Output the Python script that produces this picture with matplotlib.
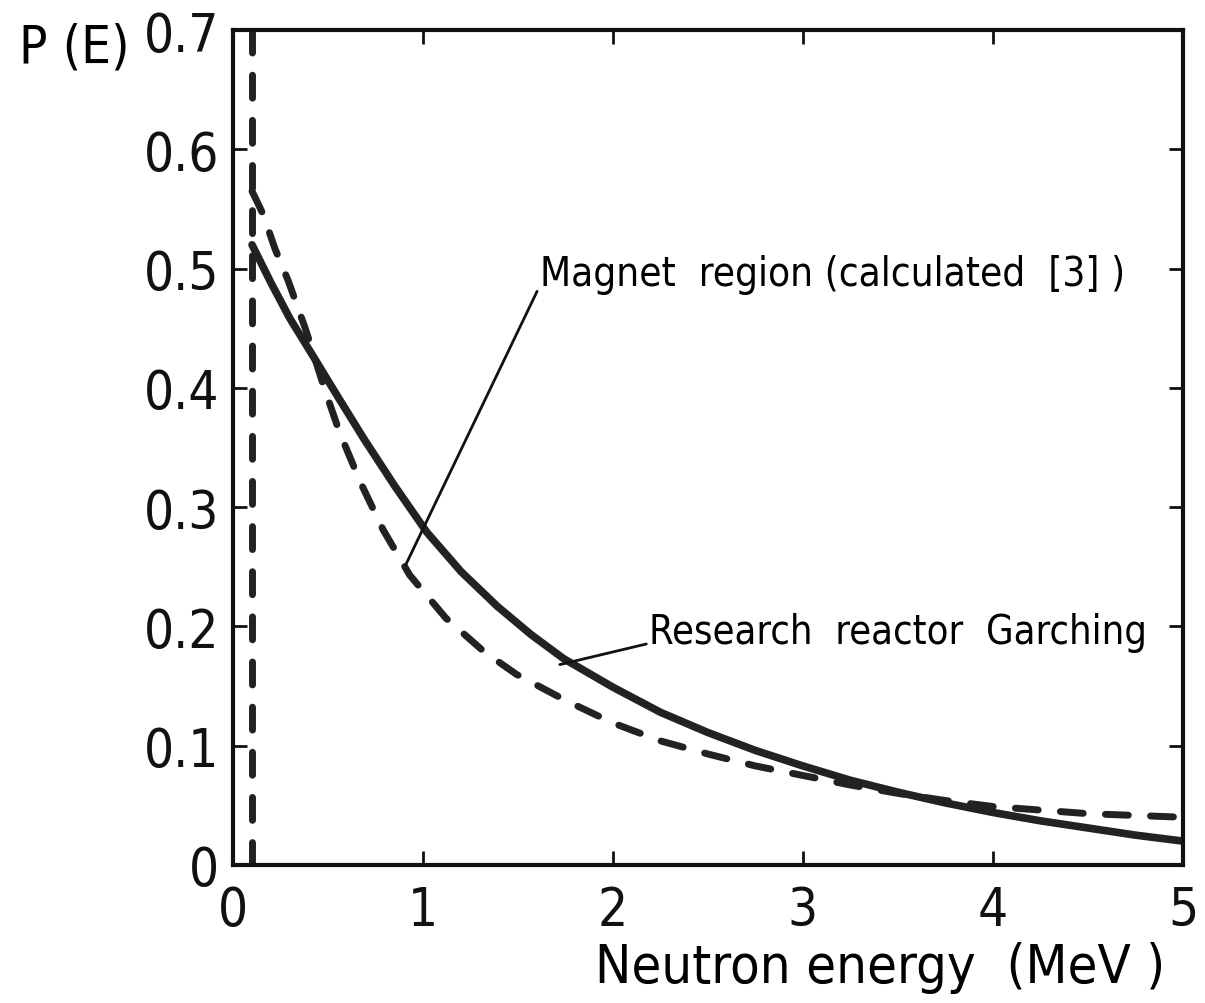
import numpy as np
import matplotlib
matplotlib.use('Agg')
import matplotlib.pyplot as plt

# the original lettering is narrow, ask for the condensed cut of DejaVu
plt.rcParams['font.family'] = ['DejaVu Sans']
plt.rcParams['font.stretch'] = 'condensed'

# research reactor Garching (solid)
E_solid = [0.1, 0.2, 0.3, 0.42, 0.55, 0.69, 0.85, 1.02, 1.2, 1.39, 1.57, 1.74,
           2.0, 2.25, 2.5, 2.75, 3.0, 3.25, 3.5, 3.75, 4.0, 4.25, 4.5, 4.75, 5.0]
P_solid = [0.52, 0.488, 0.458, 0.427, 0.393, 0.357, 0.318, 0.279, 0.246, 0.217, 0.193, 0.173,
           0.149, 0.128, 0.111, 0.096, 0.083, 0.071, 0.061, 0.052, 0.044, 0.037, 0.031, 0.025, 0.020]

# magnet region, calculated [3] (dashed)
E_dash = [0.1, 0.16, 0.22, 0.29, 0.38, 0.48, 0.56, 0.67, 0.79, 0.93, 1.12, 1.32, 1.49,
          1.75, 2.0, 2.25, 2.5, 2.75, 3.0, 3.25, 3.5, 3.75, 4.0, 4.5, 5.0]
P_dash = [0.565, 0.545, 0.517, 0.49, 0.45, 0.40, 0.363, 0.321, 0.281, 0.243, 0.207, 0.179, 0.160,
          0.138, 0.119, 0.104, 0.093, 0.083, 0.075, 0.067, 0.060, 0.054, 0.049, 0.043, 0.040]
E_peak = 0.1   # vertical dashed line at the low energy end

xticks = [0, 1, 2, 3, 4, 5]
yticks = [0, 0.1, 0.2, 0.3, 0.4, 0.5, 0.6, 0.7]
ylabels = ['0', '0.1', '0.2', '0.3', '0.4', '0.5', '0.6', '0.7']

fig = plt.figure(figsize=(12.05, 10.04), dpi=100)
ax = fig.add_axes([0.1934, 0.1375, 0.7883, 0.8315])

ax.plot(E_solid, P_solid, color='#222222', lw=5.5, solid_capstyle='round')
ax.plot(E_dash, P_dash, color='#222222', lw=5, dashes=(3.3, 3.2), dash_capstyle='round')
ax.plot([E_peak, E_peak], [0, 0.7], color='#222222', lw=5, dashes=(3.3, 3.2), dash_capstyle='round')

ax.set_xlim(0, 5)
ax.set_ylim(0, 0.7)
ax.set_xticks(xticks)
ax.set_xticklabels([str(v) for v in xticks])
ax.set_yticks(yticks)
ax.set_yticklabels(ylabels)
ax.tick_params(direction='in', length=10, width=2, top=True, right=True,
               labelsize=38, colors='#111111')
ax.tick_params(axis='x', pad=14)
ax.tick_params(axis='y', pad=10)
for s in ax.spines.values():
    s.set_linewidth(3)
    s.set_color('#111111')

# leader lines start at the baseline of the first letter
lead = dict(arrowstyle='-', lw=2, color='#111111', relpos=(0, 0.22), shrinkA=0, shrinkB=0)
ax.annotate('Magnet  region (calculated  [3] )', xy=(0.91, 0.252), xytext=(1.615, 0.486),
            fontsize=29, arrowprops=lead, ha='left', va='baseline')
ax.annotate('Research  reactor  Garching', xy=(1.72, 0.168), xytext=(2.19, 0.186),
            fontsize=28.5, arrowprops=lead, ha='left', va='baseline')

fig.text(0.016, 0.952, 'P (E)', fontsize=38, ha='left', va='center')
fig.text(0.967, 0.036, 'Neutron energy  (MeV )', fontsize=39, ha='right', va='center')

fig.savefig('out.png', dpi=100)
